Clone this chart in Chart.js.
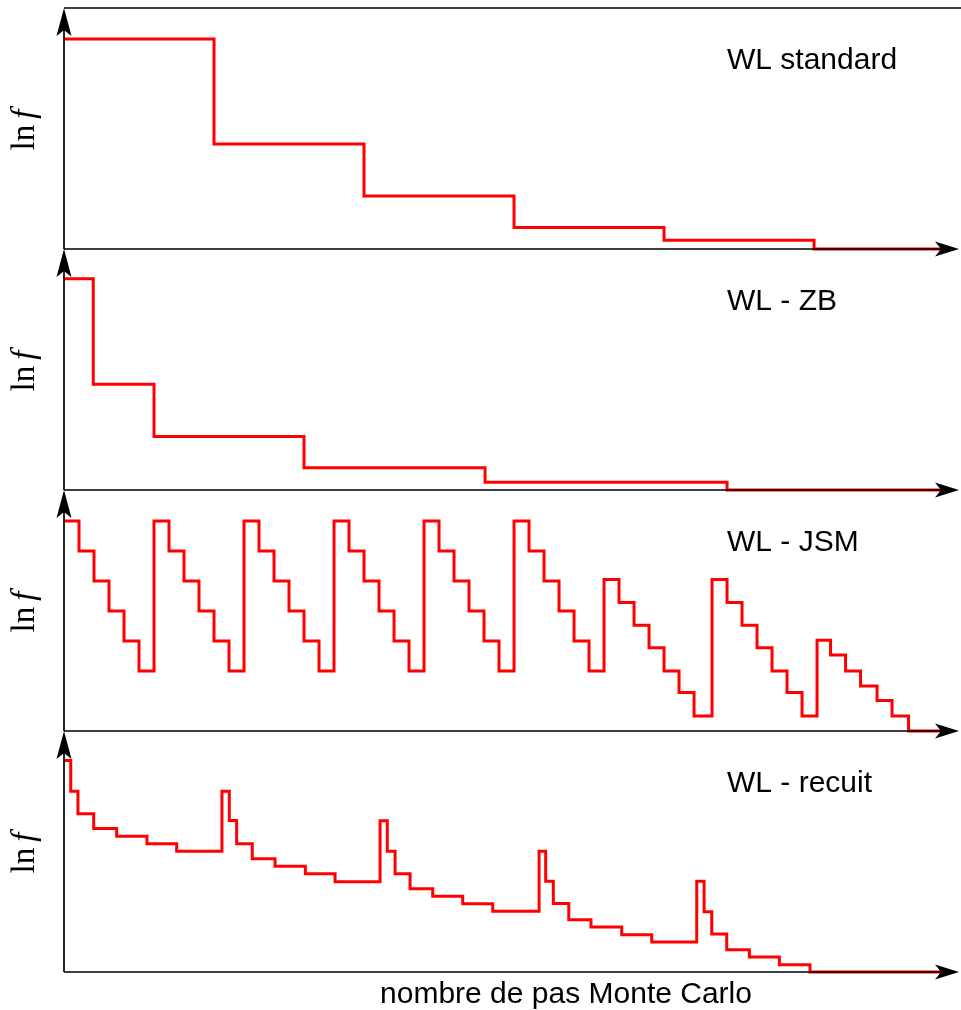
<!DOCTYPE html>
<html lang="fr">
<head>
<meta charset="utf-8">
<title>Évolution de ln f — variantes Wang-Landau</title>
<script src="https://cdn.jsdelivr.net/npm/chart.js@4.4.1/dist/chart.umd.min.js"></script>
<style>
  html, body { margin: 0; padding: 0; background: #fff; }
  #page { position: relative; width: 961px; height: 1010px; overflow: hidden; }
  .panel { position: absolute; left: 0; width: 961px; }
</style>
</head>
<body>
<div id="page"></div>
<script>
// ================================================================
//  Schéma : ln f en fonction du nombre de pas Monte Carlo
//  4 variantes de Wang-Landau, une courbe en escalier par panneau
//  Unités arbitraires (x : pas MC, y : ln f)
// ================================================================

var panelLabels = ['WL standard', 'WL - ZB', 'WL - JSM', 'WL - recuit'];
var xLabel      = 'nombre de pas Monte Carlo';
var yLabel      = 'ln';
var yLabelVar   = 'f';

var xMax   = 59.73;   // bout de la flèche
var yMax   = 8.03;
var xFin   = 58.5;    // fin de la simulation

// ── WL standard ──────────────────────────────────────────────
var stdX = [0, 10, 20, 30, 40, 50];
var stdY = [7.0, 3.5, 1.77, 0.72, 0.29, 0];

// ── WL - ZB ──────────────────────────────────────────────────
var zbX = [0, 1.95, 6.0, 16.0, 28.07, 44.2];
var zbY = [7.04, 3.52, 1.78, 0.74, 0.26, 0];

// ── WL - JSM ─────────────────────────────────────────────────
var jsmX = [
    0, 1, 2, 3, 4, 5,
    6, 7, 8, 9, 10, 11,
    12, 13, 14, 15, 16, 17,
    18, 19, 20, 21, 22, 23,
    24, 25, 26, 27, 28, 29,
    30, 31, 32, 33, 34, 35,
    36, 37, 38, 39, 40, 41, 42,
    43.2, 44.2, 45.2, 46.2, 47.2, 48.2, 49.2,
    50.2, 51.1, 52.1, 53.1, 54.2, 55.2,
    56.3
];
var jsmY = [
    7, 6, 5, 4, 3, 2,
    7, 6, 5, 4, 3, 2,
    7, 6, 5, 4, 3, 2,
    7, 6, 5, 4, 3, 2,
    7, 6, 5, 4, 3, 2,
    7, 6, 5, 4, 3, 2,
    5.05, 4.28, 3.52, 2.77, 2, 1.28, 0.5,
    5.05, 4.28, 3.52, 2.77, 2, 1.28, 0.5,
    3.02, 2.53, 2, 1.5, 1.02, 0.5,
    0
];

// ── WL - recuit ──────────────────────────────────────────────
var recuitX = [
    0, 0.45, 0.93, 1.98, 3.51, 5.53, 7.51,
    10.53, 11.02, 11.51, 12.55, 14.07, 16.09, 18.07,
    21.07, 21.55, 22.07, 23.07, 24.58, 26.58, 28.58,
    31.67, 32.11, 32.62, 33.65, 35.13, 37.18, 39.18,
    42.18, 42.67, 43.18, 44.18, 45.69, 47.69, 49.73
];
var recuitY = [
    7.05, 6.02, 5.27, 4.78, 4.52, 4.27, 4.02,
    6.02, 5.05, 4.27, 3.77, 3.52, 3.27, 3.01,
    5.04, 4.02, 3.27, 2.77, 2.52, 2.27, 2.02,
    4.02, 3.02, 2.28, 1.74, 1.5, 1.24, 1.0,
    3.02, 2.01, 1.27, 0.74, 0.5, 0.24, 0
];

var seriesX = [stdX, zbX, jsmX, recuitX];
var seriesY = [stdY, zbY, jsmY, recuitY];

// ── Axes fléchés, cadre et libellés ─────────────────────────
var axesPlugin = {
    id: 'axesFleches',
    afterDatasetsDraw: function (chart, args, opts) {
        var ctx = chart.ctx;
        var ca  = chart.chartArea;
        ctx.save();
        ctx.strokeStyle = '#000';
        ctx.fillStyle   = '#000';
        ctx.lineWidth   = 1.7;

        // cadre haut (premier panneau seulement)
        if (opts.frameTop) {
            ctx.beginPath();
            ctx.moveTo(ca.left, ca.top);
            ctx.lineTo(chart.width, ca.top);
            ctx.stroke();
        }

        // axe Y + flèche
        ctx.beginPath();
        ctx.moveTo(ca.left, ca.bottom);
        ctx.lineTo(ca.left, ca.top + 22);
        ctx.stroke();
        ctx.beginPath();
        ctx.moveTo(ca.left, ca.top);
        ctx.lineTo(ca.left + 7.5, ca.top + 28);
        ctx.lineTo(ca.left, ca.top + 22);
        ctx.lineTo(ca.left - 7.5, ca.top + 28);
        ctx.closePath();
        ctx.fill();

        // axe X + flèche
        ctx.beginPath();
        ctx.moveTo(ca.left, ca.bottom);
        ctx.lineTo(ca.right - 18, ca.bottom);
        ctx.stroke();
        ctx.beginPath();
        ctx.moveTo(ca.right - 1, ca.bottom);
        ctx.lineTo(ca.right - 25, ca.bottom - 7.5);
        ctx.lineTo(ca.right - 19, ca.bottom);
        ctx.lineTo(ca.right - 25, ca.bottom + 7.5);
        ctx.closePath();
        ctx.fill();

        // nom de la variante
        ctx.font         = '30px "Liberation Sans", Arial, sans-serif';
        ctx.textAlign    = 'left';
        ctx.textBaseline = 'alphabetic';
        ctx.fillText(opts.label, 727, ca.top + 60.5);

        // ln f (vertical)
        ctx.save();
        ctx.translate(34, (ca.top + ca.bottom) / 2 + 1.5);
        ctx.rotate(-Math.PI / 2);
        var fontN = '33px "Liberation Serif", "Times New Roman", serif';
        var fontI = 'italic 33px "Liberation Serif", "Times New Roman", serif';
        ctx.font = fontN;
        var wLn = ctx.measureText(yLabel).width;
        ctx.font = fontI;
        var wF  = ctx.measureText(yLabelVar).width;
        var x0  = -(wLn + 6 + wF) / 2;
        ctx.font = fontN;
        ctx.fillText(yLabel, x0, 0);
        ctx.font = fontI;
        ctx.fillText(yLabelVar, x0 + wLn + 6, 0);
        ctx.restore();

        // titre de l'axe X (dernier panneau)
        if (opts.xTitle) {
            ctx.font      = '30px "Liberation Sans", Arial, sans-serif';
            ctx.textAlign = 'center';
            ctx.fillText(opts.xTitle, 566, ca.bottom + 31);
        }
        ctx.restore();
    }
};

// ── Construction des 4 panneaux ─────────────────────────────
var page = document.getElementById('page');

panelLabels.forEach(function (label, k) {
    var last   = k === panelLabels.length - 1;
    var height = last ? 287 : 262;

    var wrap = document.createElement('div');
    wrap.className    = 'panel';
    wrap.style.top    = (241 * k) + 'px';
    wrap.style.height = height + 'px';
    var canvas = document.createElement('canvas');
    wrap.appendChild(canvas);
    page.appendChild(wrap);

    var xs  = seriesX[k];
    var ys  = seriesY[k];
    var pts = xs.map(function (x, i) { return { x: x, y: ys[i] }; });
    pts.push({ x: xFin, y: ys[ys.length - 1] });

    new Chart(canvas, {
        type: 'line',
        data: {
            datasets: [{
                label      : label,
                data       : pts,
                borderColor: '#ff0000',
                borderWidth: 3,
                pointRadius: 0,
                stepped    : true,
                fill       : false,
                clip       : false
            }]
        },
        options: {
            responsive         : true,
            maintainAspectRatio: false,
            animation          : false,
            events             : [],
            layout: { padding: { left: 64, right: 1, top: 8, bottom: height - 249 } },
            scales: {
                x: { type: 'linear', min: 0, max: xMax, display: false },
                y: { type: 'linear', min: 0, max: yMax, display: false }
            },
            plugins: {
                legend : { display: false },
                tooltip: { enabled: false },
                axesFleches: {
                    label   : label,
                    frameTop: k === 0,
                    xTitle  : last ? xLabel : null
                }
            }
        },
        plugins: [axesPlugin]
    });
});
</script>
</body>
</html>
